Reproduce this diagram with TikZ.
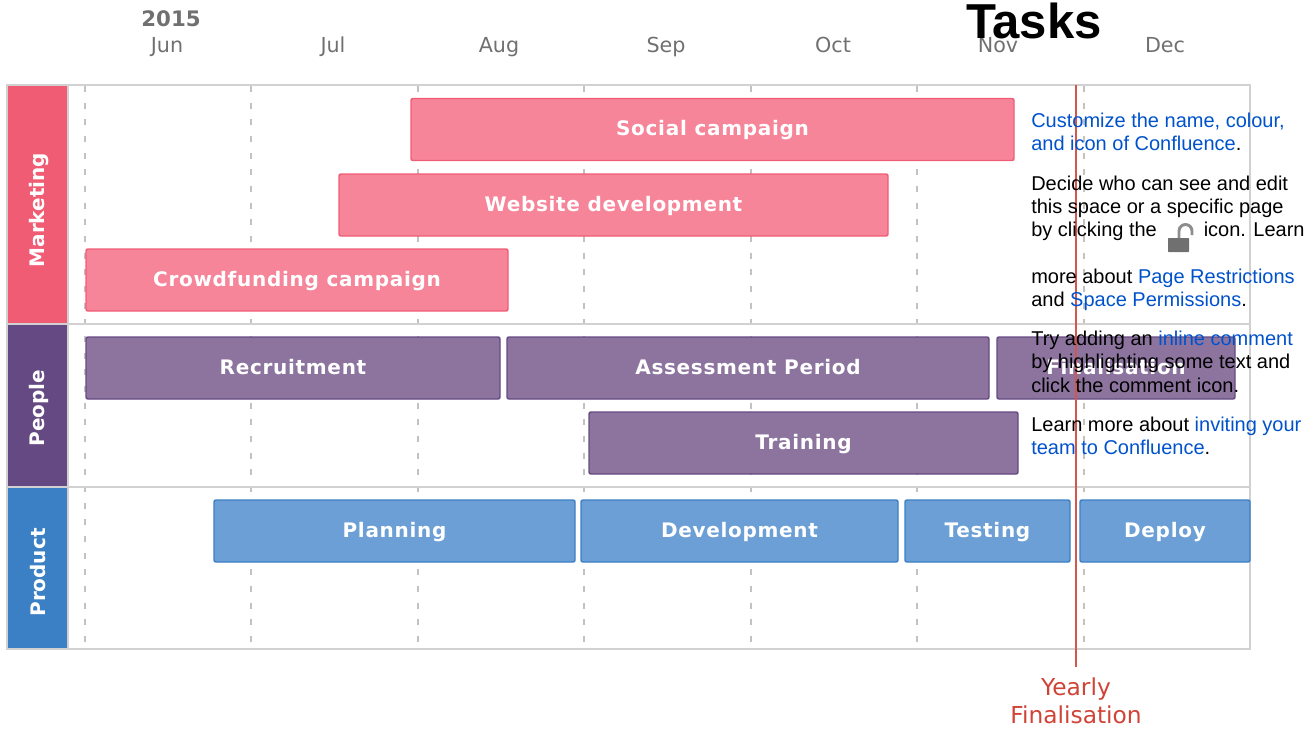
\documentclass[tikz,border=0pt]{standalone}
\usepackage{fontspec}
\setmainfont{Liberation Sans}
\newfontfamily\chartfont[LetterSpace=3.5]{DejaVu Sans}
\newfontfamily\sidefont{DejaVu Sans}
\usetikzlibrary{positioning, calc}
\definecolor{pinkfill}{HTML}{F6859A}
\definecolor{pinkline}{HTML}{F15C75}
\definecolor{purplefill}{HTML}{8C749F}
\definecolor{purpleline}{HTML}{654982}
\definecolor{bluefill}{HTML}{6C9FD5}
\definecolor{blueline}{HTML}{3B7FC4}
\definecolor{markred}{HTML}{D04437}
\definecolor{linkblue}{HTML}{0052CC}
\definecolor{labelgrey}{HTML}{707070}
\newcommand{\lnk}[1]{\textcolor{linkblue}{#1}}
\tikzset{
  barbox/.style={draw,rounded corners=1.5pt,line width=1.1pt,inner sep=0pt,text=white,text height=12pt,text depth=3pt,
    minimum width=#1*0.75pt,minimum height=62*0.75pt,font=\chartfont\bfseries\fontsize{15pt}{17pt}\selectfont},
  pinkbar/.style={barbox=#1,fill=pinkfill,draw=pinkline},
  purplebar/.style={barbox=#1,fill=purplefill,draw=purpleline},
  bluebar/.style={barbox=#1,fill=bluefill,draw=blueline},
  sidelabel/.style={rotate=90,text=white,inner sep=0pt,font=\sidefont\bfseries\fontsize{15pt}{17pt}\selectfont},
  monthlabel/.style={text=labelgrey,inner sep=0pt,anchor=base,font=\sidefont\fontsize{15.5pt}{17pt}\selectfont},
  griddash/.style={draw=black!24,line width=1pt,dash pattern=on 4.5pt off 8pt},
  framerule/.style={draw=black!18,line width=1.2pt},
  helptext/.style={anchor=base west,inner sep=0pt,font=\fontsize{15pt}{17.5pt}\selectfont}
}
\begin{document}
\begin{tikzpicture}[x=0.75pt,y=-0.75pt]
\useasboundingbox (0,0) rectangle (1315,729);
\fill[pinkline] (7,85) rectangle (68,324);
\fill[purpleline] (7,324) rectangle (68,487);
\fill[blueline] (7,487) rectangle (68,649);
\draw[griddash] (85,86) -- (85,648);
\draw[griddash] (251,86) -- (251,648);
\draw[griddash] (418,86) -- (418,648);
\draw[griddash] (584,86) -- (584,648);
\draw[griddash] (751,86) -- (751,648);
\draw[griddash] (917,86) -- (917,648);
\draw[griddash] (1084,86) -- (1084,648);
\draw[framerule] (7,85) rectangle (1250,649);
\draw[framerule] (68,85) -- (68,649);
\draw[framerule] (7,324) -- (1250,324);
\draw[framerule] (7,487) -- (1250,487);

\node[sidelabel] (marketing) at (39,210) {Marketing};
\node[sidelabel] (people) at (39,408) {People};
\node[sidelabel] (product) at (38.5,572.5) {Product};

\node[monthlabel,font=\sidefont\bfseries\fontsize{16pt}{17pt}\selectfont] (year) at (171,26) {2015};
\node[monthlabel] (jun) at (167,52) {Jun};
\node[monthlabel] (jul) at (333,52) {Jul};
\node[monthlabel] (aug) at (499,52) {Aug};
\node[monthlabel] (sep) at (666,52) {Sep};
\node[monthlabel] (oct) at (833,52) {Oct};
\node[monthlabel] (nov) at (998,52) {Nov};
\node[monthlabel] (dec) at (1165,52) {Dec};

\node[pinkbar=603] (social) at (712.5,129.5) {Social campaign};
\node[pinkbar=549] (website) at (613.5,205) {Website development};
\node[pinkbar=422] (crowd) at (297,280) {Crowdfunding campaign};
\node[purplebar=414] (recruit) at (293,368) {Recruitment};
\node[purplebar=482] (assess) at (748,368) {Assessment Period};
\node[purplebar=238] (final) at (1116,368) {Finalisation};
\node[purplebar=429] (training) at (803.5,443) {Training};
\node[bluebar=361] (planning) at (394.5,531) {Planning};
\node[bluebar=317] (develop) at (739.5,531) {Development};
\node[bluebar=165] (testing) at (987.5,531) {Testing};
\node[bluebar=170] (deploy) at (1165,531) {Deploy};

\coordinate (marktop) at (1076,85);
\node[text=markred,inner sep=0pt,align=center,font=\sidefont\fontsize{17.5pt}{21pt}\selectfont,anchor=north] (yearly) at (1076,677) {Yearly\\Finalisation};
\draw[markred!90,line width=2pt] (marktop) -- ($(yearly.north)+(0,-10)$);

\node[anchor=base west,inner sep=0pt,font=\bfseries\fontsize{36.8pt}{40pt}\selectfont] (tasks) at (966,38.5) {Tasks};
\node[helptext] (t1) at (1031,127) {\lnk{Customize the name, colour,}};
\node[helptext] (t2) at (1031,150.5) {\lnk{and icon of Confluence}.};
\node[helptext] (t3) at (1031,190) {Decide who can see and edit};
\node[helptext] (t4) at (1031,213) {this space or a specific page};
\node[helptext] (t5) at (1031,236) {by clicking the};
\node[helptext] (t6) at (1203.5,236) {icon. Learn};
\node[helptext] (t7) at (1031,283) {more about \lnk{Page Restrictions}};
\node[helptext] (t8) at (1031,306) {and \lnk{Space Permissions}.};
\node[helptext] (t9) at (1031,345) {Try adding an \lnk{inline comment}};
\node[helptext] (t10) at (1031,368) {by highlighting some text and};
\node[helptext] (t11) at (1031,392) {click the comment icon.};
\node[helptext] (t12) at (1031,431) {Learn more about \lnk{inviting your}};
\node[helptext] (t13) at (1031,454) {\lnk{team to Confluence}.};

\fill[labelgrey,rounded corners=0.5pt] (1168,238) rectangle (1189,252);
\draw[labelgrey!80,line width=2.2pt] (1179,238) -- (1179,231) arc (180:360:6.5) -- (1192,235);
\end{tikzpicture}
\end{document}
